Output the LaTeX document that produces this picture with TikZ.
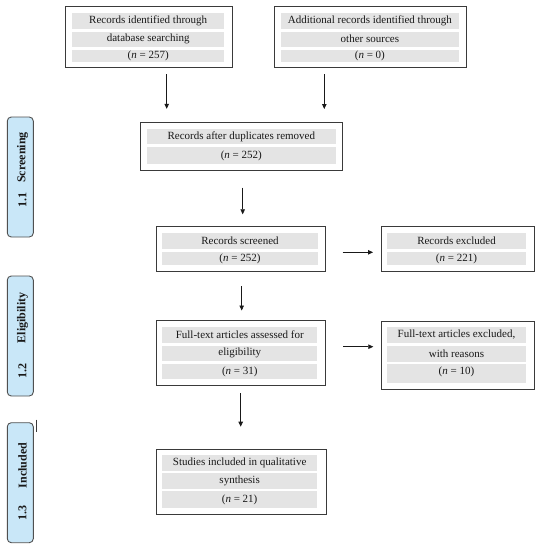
\documentclass[tikz,border=0pt]{standalone}
\usepackage{fontspec}
\setmainfont{Liberation Serif}
\usetikzlibrary{arrows.meta}
\definecolor{framecol}{HTML}{3A3A3A}
\definecolor{bandcol}{HTML}{E4E4E4}
\definecolor{sideblue}{HTML}{C9E7F8}
\definecolor{sideedge}{HTML}{505050}
\newcommand{\bandfont}{\fontsize{11}{13}\selectfont}
\tikzset{
  frame/.style={draw=framecol, line width=0.9pt, fill=white, inner sep=0pt},
  band/.style={fill=bandcol, inner sep=0pt, font=\bandfont, text=black!90},
  btext/.style={inner sep=0pt, font=\bandfont, text=black!90},
  side/.style={draw=sideedge, line width=0.9pt, fill=sideblue, rounded corners=4pt, minimum width=26pt, minimum height=120pt, inner sep=0pt},
  sidetxt/.style={rotate=90, inner sep=0pt, font=\fontsize{12}{14}\selectfont\bfseries, text=black!90},
  arr/.style={draw=black!90, line width=0.75pt, -{Triangle[width=4.5pt,length=5pt]}},
}
\begin{document}
\begin{tikzpicture}[x=1pt,y=-1pt]
\useasboundingbox (0,0) rectangle (543,550);

% side labels
\node[side] (s1) at (20.3,177) {};
\node[sidetxt] (s1w) at (22.6,157.5) {Screening};
\node[sidetxt] (s1n) at (22.6,200.3) {1.1};
\node[side] (s2) at (20.3,336) {};
\node[sidetxt] (s2w) at (22.6,317.9) {Eligibility};
\node[sidetxt] (s2n) at (22.6,370.6) {1.2};
\node[side] (s3) at (20.3,482.7) {};
\node[sidetxt] (s3w) at (22.6,465.5) {Included};
\node[sidetxt] (s3n) at (22.6,512.5) {1.3};
\coordinate (tick1) at (36.7,419.5);
\coordinate (tick2) at (36.7,432);
\draw[framecol, line width=0.8pt] (tick1) -- (tick2);

% box 1
\node[frame, minimum width=166.6pt, minimum height=60.6pt] (b1) at (149,37) {};
\node[band, minimum width=152.3pt, minimum height=15.7pt] (b1a) at (148.2,21.2) {Records identified through};
\node[band, minimum width=152.3pt, minimum height=15pt] (b1b) at (148.2,39.2) {database searching};
\node[band, minimum width=152.3pt, minimum height=12.5pt] (b1c) at (148.2,56) {(\textit{n} = 257)};

% box 2
\node[frame, minimum width=192.7pt, minimum height=60.6pt] (b2) at (370.35,37) {};
\node[band, minimum width=178.8pt, minimum height=15.7pt] (b2a) at (369.9,21.2) {Additional records identified through};
\node[band, minimum width=178.8pt, minimum height=15pt] (b2b) at (369.9,39.2) {other sources};
\node[band, minimum width=178.8pt, minimum height=12.5pt] (b2c) at (369.9,56) {(\textit{n} = 0)};

% box 3
\node[frame, minimum width=201.6pt, minimum height=47.7pt] (b3) at (241.5,146.15) {};
\node[band, minimum width=189.3pt, minimum height=15.3pt] (b3a) at (241.35,136.65) {Records after duplicates removed};
\node[band, minimum width=189.3pt, minimum height=17pt] (b3b) at (241.35,155.8) {(\textit{n} = 252)};

% box 4
\node[frame, minimum width=169.7pt, minimum height=44.3pt] (b4) at (240.85,248.85) {};
\node[band, minimum width=155.4pt, minimum height=15.7pt] (b4a) at (240,241.15) {Records screened};
\node[band, minimum width=155.4pt, minimum height=13.6pt] (b4b) at (240,258.5) {(\textit{n} = 252)};

% box 5
\node[frame, minimum width=153.3pt, minimum height=44.3pt] (b5) at (457.65,248.85) {};
\node[band, minimum width=138.4pt, minimum height=15.7pt] (b5a) at (456.5,241.15) {Records excluded};
\node[band, minimum width=138.4pt, minimum height=13.6pt] (b5b) at (456.5,258.5) {(\textit{n} = 221)};

% box 6
\node[frame, minimum width=169.7pt, minimum height=65pt] (b6) at (240.85,353.2) {};
\node[band, minimum width=155pt, minimum height=16pt] (b6a) at (239.8,334.7) {Full-text articles assessed for};
\node[band, minimum width=155pt, minimum height=15.3pt] (b6b) at (239.8,353.35) {eligibility};
\node[band, minimum width=155pt, minimum height=15.3pt] (b6c) at (239.8,371.65) {(\textit{n} = 31)};

% box 7
\node[frame, minimum width=153.3pt, minimum height=68.3pt] (b7) at (457.65,355.15) {};
\node[band, minimum width=138.4pt, minimum height=16.6pt] (b7a) at (456.5,335) {Full-text articles excluded,};
\node[band, minimum width=138.4pt, minimum height=16pt] (b7b) at (456.5,353.7) {with reasons};
\node[band, minimum width=138.4pt, minimum height=19.3pt] (b7c) at (456.5,373.65) {};
\node[btext] (b7t) at (456.5,371.8) {(\textit{n} = 10)};

% box 8
\node[frame, minimum width=170pt, minimum height=65pt] (b8) at (241,481.5) {};
\node[band, minimum width=155.3pt, minimum height=15.7pt] (b8a) at (239.65,462.85) {Studies included in qualitative};
\node[band, minimum width=155.3pt, minimum height=15.7pt] (b8b) at (239.65,481.15) {synthesis};
\node[band, minimum width=155.3pt, minimum height=17pt] (b8c) at (239.65,499.8) {(\textit{n} = 21)};

% connectors
\coordinate (a1s) at (166.7,74);   \coordinate (a1e) at (166.7,108.8);
\coordinate (a2s) at (324.3,74);   \coordinate (a2e) at (324.3,109);
\coordinate (a3s) at (242.7,187.7); \coordinate (a3e) at (242.7,214.3);
\coordinate (a4s) at (241.7,286);  \coordinate (a4e) at (241.7,310.5);
\coordinate (a5s) at (240.7,393.3); \coordinate (a5e) at (240.7,426.7);
\coordinate (h1s) at (342.7,252.3); \coordinate (h1e) at (373,252.3);
\coordinate (h2s) at (343.3,346.7); \coordinate (h2e) at (373.3,346.7);
\draw[arr] (a1s) -- (a1e);
\draw[arr] (a2s) -- (a2e);
\draw[arr] (a3s) -- (a3e);
\draw[arr] (a4s) -- (a4e);
\draw[arr] (a5s) -- (a5e);
\draw[arr] (h1s) -- (h1e);
\draw[arr] (h2s) -- (h2e);
\end{tikzpicture}
\end{document}
